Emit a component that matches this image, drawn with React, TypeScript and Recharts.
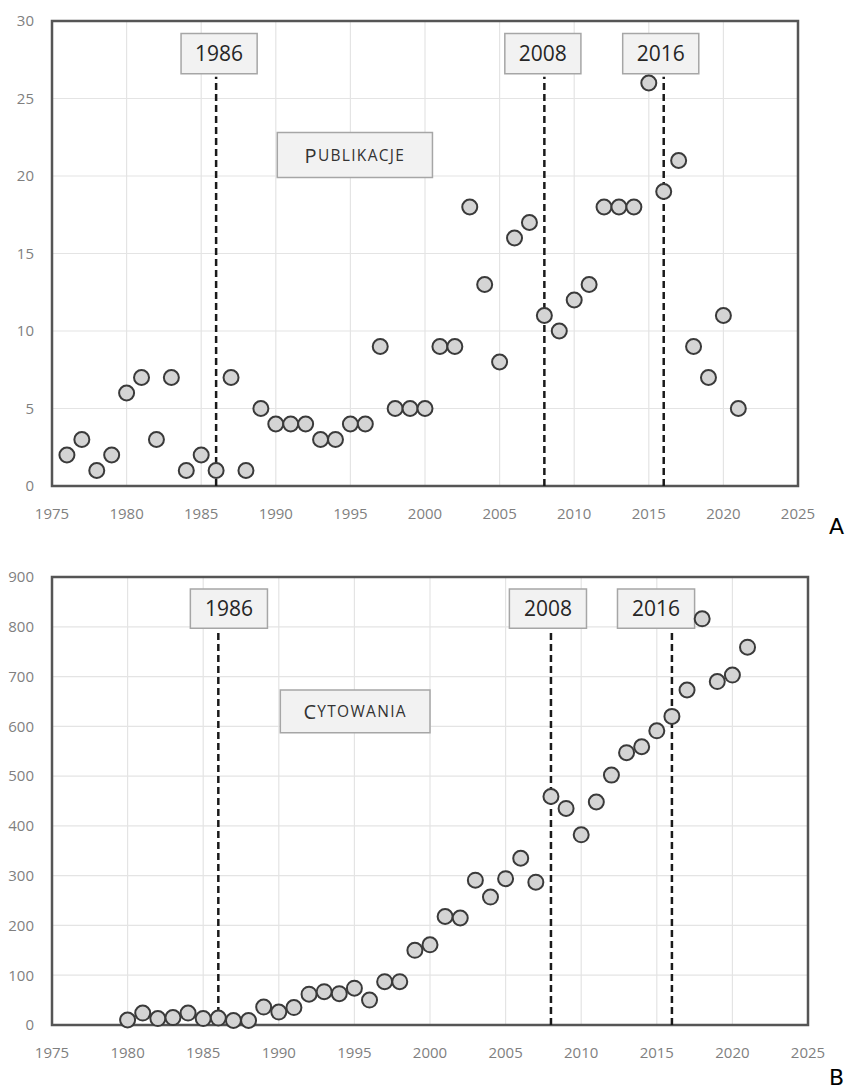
import React from "react";
import {
  ScatterChart, Scatter, XAxis, YAxis, CartesianGrid, ReferenceLine, ReferenceArea
} from "recharts";

// A: publications per year
const pubYears = [
  1976, 1977, 1978, 1979, 1980, 1981, 1982, 1983, 1984, 1985, 1986, 1987, 1988, 1989,
  1990, 1991, 1992, 1993, 1994, 1995, 1996, 1997, 1998, 1999, 2000, 2001, 2002, 2003,
  2004, 2005, 2006, 2007, 2008, 2009, 2010, 2011, 2012, 2013, 2014, 2015, 2016, 2017,
  2018, 2019, 2020, 2021,
];
const pubCounts = [
  2, 3, 1, 2, 6, 7, 3, 7, 1, 2, 1, 7, 1, 5,
  4, 4, 4, 3, 3, 4, 4, 9, 5, 5, 5, 9, 9, 18,
  13, 8, 16, 17, 11, 10, 12, 13, 18, 18, 18, 26, 19, 21,
  9, 7, 11, 5,
];

// B: citations per year
const citYears = [
  1980, 1981, 1982, 1983, 1984, 1985, 1986, 1987, 1988, 1989, 1990, 1991, 1992, 1993,
  1994, 1995, 1996, 1997, 1998, 1999, 2000, 2001, 2002, 2003, 2004, 2005, 2006, 2007,
  2008, 2009, 2010, 2011, 2012, 2013, 2014, 2015, 2016, 2017, 2018, 2019, 2020, 2021,
];
const citCounts = [
  10, 24, 13, 15, 24, 13, 14, 9, 9, 36, 26, 35, 62, 67,
  63, 74, 50, 87, 87, 150, 161, 218, 215, 291, 257, 294, 335, 287,
  459, 435, 382, 448, 502, 547, 559, 591, 620, 673, 816, 690, 703, 759,
];

const yearTicks = [1975, 1980, 1985, 1990, 1995, 2000, 2005, 2010, 2015, 2020, 2025];
const pubTicks = [0, 5, 10, 15, 20, 25, 30];
const citTicks = [0, 100, 200, 300, 400, 500, 600, 700, 800, 900];
const markerYears = [1986, 2008, 2016];

const FONT = "'Open Sans', 'Liberation Sans', sans-serif";

const Marker = (props: any) => (
  <circle cx={props.cx} cy={props.cy} r={7.5} fill="#d4d4d4" stroke="#3a3a3a" strokeWidth={2} />
);

// small caps title, e.g. PUBLIKACJE
const capsLabel = (text: string) => (p: any) => {
  const vb = p.viewBox || {};
  const cx = vb.x + vb.width / 2;
  const cy = vb.y + vb.height / 2;
  return (
    <text x={cx} y={cy} textAnchor="middle" dominantBaseline="central" fill="#333" fontFamily={FONT} letterSpacing={1.3}>
      <tspan fontSize={20}>{text[0]}</tspan>
      <tspan fontSize={15.5}>{text.slice(1)}</tspan>
    </text>
  );
};

interface PanelProps {
  years: number[];
  values: number[];
  yMax: number;
  yTicks: number[];
  width: number;
  height: number;
  margin: { top: number; right: number; bottom: number; left: number };
  title: string;
  titleBox: [number, number, number, number];
  boxCenters: number[];
  boxY: [number, number];
  lineTop: number;
}

function Panel(p: PanelProps) {
  const data = p.years.map((year, i) => ({ year, value: p.values[i] }));
  return (
    <ScatterChart width={p.width} height={p.height} margin={p.margin}>
      <CartesianGrid stroke="#e4e4e4" strokeWidth={1.2} />
      <XAxis
        type="number" dataKey="year" domain={[1975, 2025]} ticks={yearTicks}
        tickLine={false} axisLine={false} tickSize={0} tickMargin={22} height={30}
        tick={{ fill: "#7f7f7f", fontSize: 15, fontFamily: FONT }}
      />
      <YAxis
        type="number" dataKey="value" domain={[0, p.yMax]} ticks={p.yTicks}
        tickLine={false} axisLine={false} tickSize={0} tickMargin={18} width={52}
        tick={{ fill: "#7f7f7f", fontSize: 15, fontFamily: FONT }}
      />
      <ReferenceArea
        x1={1975} x2={2025} y1={0} y2={p.yMax}
        fill="none" stroke="#555" strokeWidth={2.5}
      />
      <ReferenceArea
        x1={p.titleBox[0]} x2={p.titleBox[1]} y1={p.titleBox[2]} y2={p.titleBox[3]}
        fill="#f2f2f2" fillOpacity={1} stroke="#a6a6a6" strokeWidth={1.5}
        label={{ position: "center", content: capsLabel(p.title) }}
      />
      <Scatter data={data} shape={Marker} isAnimationActive={false} />
      {markerYears.map((yr) => (
        <ReferenceLine
          key={"l" + yr}
          segment={[{ x: yr, y: 0 }, { x: yr, y: p.lineTop }]}
          stroke="#1a1a1a" strokeWidth={2.5} strokeDasharray="7 4"
        />
      ))}
      {markerYears.map((yr, i) => (
        <ReferenceArea
          key={"b" + yr}
          x1={p.boxCenters[i] - 2.55} x2={p.boxCenters[i] + 2.55}
          y1={p.boxY[0]} y2={p.boxY[1]}
          fill="#f2f2f2" fillOpacity={1} stroke="#a6a6a6" strokeWidth={1.5}
          label={{ value: String(yr), position: "center", fill: "#262626", fontSize: 21, fontFamily: FONT }}
        />
      ))}
    </ScatterChart>
  );
}

export default function App() {
  return (
    <div style={{ position: "absolute", left: 0, top: 0, width: 851, height: 1088, background: "#fff" }}>
      <div style={{ position: "absolute", left: 0, top: 0 }}>
        <Panel
          years={pubYears} values={pubCounts} yMax={30} yTicks={pubTicks}
          width={851} height={540}
          margin={{ top: 21, right: 53, bottom: 24, left: 0 }}
          title="PUBLIKACJE"
          titleBox={[1990.1, 2000.5, 19.9, 22.8]}
          boxCenters={[1986.2, 2007.9, 2015.8]}
          boxY={[26.6, 29.2]}
          lineTop={26.4}
        />
      </div>
      <div style={{ position: "absolute", left: 0, top: 540 }}>
        <Panel
          years={citYears} values={citCounts} yMax={900} yTicks={citTicks}
          width={851} height={548}
          margin={{ top: 37, right: 43, bottom: 33, left: 0 }}
          title="CYTOWANIA"
          titleBox={[1990.1, 2000.0, 587, 673]}
          boxCenters={[1986.7, 2007.8, 2014.95]}
          boxY={[797, 876]}
          lineTop={792}
        />
      </div>
      <div style={{ position: "absolute", left: 829, top: 514, fontSize: 22, lineHeight: "26px", fontFamily: "'DejaVu Sans', sans-serif", color: "#000" }}>A</div>
      <div style={{ position: "absolute", left: 829, top: 1065, fontSize: 22, lineHeight: "26px", fontFamily: "'DejaVu Sans', sans-serif", color: "#000" }}>B</div>
    </div>
  );
}
